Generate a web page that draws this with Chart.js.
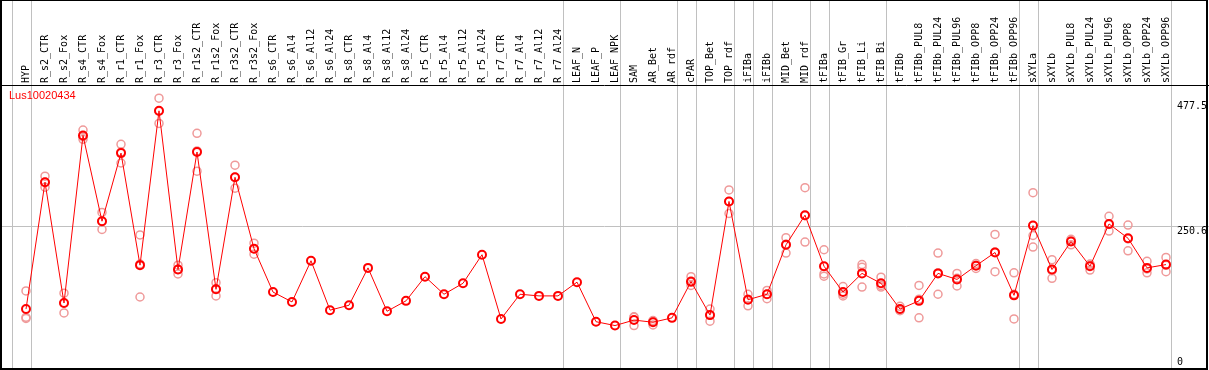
<!DOCTYPE html>
<html>
<head>
<meta charset="utf-8">
<script src="https://cdn.jsdelivr.net/npm/chart.js@4.4.1/dist/chart.umd.min.js"></script>
<style>
  html, body { margin: 0; padding: 0; background: #fff; }
  canvas { display: block; }
</style>
</head>
<body>
<canvas id="chart" width="1209" height="370"></canvas>
<script>
// sample names along the top
const categories = [
  'HYP', 'R_s2_CTR', 'R_s2_Fox', 'R_s4_CTR', 'R_s4_Fox', 'R_r1_CTR', 'R_r1_Fox',
  'R_r3_CTR', 'R_r3_Fox', 'R_r1s2_CTR', 'R_r1s2_Fox', 'R_r3s2_CTR', 'R_r3s2_Fox',
  'R_s6_CTR', 'R_s6_Al4', 'R_s6_Al12', 'R_s6_Al24', 'R_s8_CTR', 'R_s8_Al4', 'R_s8_Al12',
  'R_s8_Al24', 'R_r5_CTR', 'R_r5_Al4', 'R_r5_Al12', 'R_r5_Al24', 'R_r7_CTR', 'R_r7_Al4',
  'R_r7_Al12', 'R_r7_Al24', 'LEAF_N', 'LEAF_P', 'LEAF_NPK', 'SAM', 'AR_Bet', 'AR_rdf',
  'cPAR', 'TOP_Bet', 'TOP_rdf', 'iFIBa', 'iFIBb', 'MID_Bet', 'MID_rdf', 'tFIBa',
  'tFIB_Gr', 'tFIB_Li', 'tFIB_Bi', 'tFIBb', 'tFIBb_PUL8', 'tFIBb_PUL24', 'tFIBb_PUL96',
  'tFIBb_OPP8', 'tFIBb_OPP24', 'tFIBb_OPP96', 'sXYLa', 'sXYLb', 'sXYLb_PUL8',
  'sXYLb_PUL24', 'sXYLb_PUL96', 'sXYLb_OPP8', 'sXYLb_OPP24', 'sXYLb_OPP96'
];

// mean expression per sample
const meanValues = [
  100, 331, 111, 416, 260, 384, 180, 461, 172, 386, 136, 340, 210,
  131, 113, 188, 98, 107, 175, 96, 115, 159, 127, 147, 199, 82, 127, 124, 124,
  149, 77, 70, 80, 76, 84, 150, 89, 296, 117, 127, 217, 271, 178,
  131, 165, 147, 100, 115, 165, 154, 179, 203, 125, 252, 172, 223,
  178, 255, 229, 175, 181
];

// individual replicates (null where none are shown)
const rep1 = [
  133, 342, 129, 426, 276, 400, 235, 484, 180, 420, 148, 362, 220,
  null, null, null, null, null, null, null, null, null, null, null, null, null, null, null, null,
  null, null, null, 86, 79, null, 159, 100, 317, 127, 134, 230, 321, 208,
  141, 181, 158, 105, 143, 202, 165, 183, 236, 166, 312, 190, 227,
  182, 269, 253, 187, 194
];
const rep2 = [
  85, 331, 111, 414, 260, 386, 182, 460, 172, 388, 137, 340, 210,
  null, null, null, null, null, null, null, null, null, null, null, null, null, null, null, null,
  null, null, null, 85, 78, null, 149, 89, 296, 118, 127, 218, 270, 164,
  127, 176, 143, 98, 118, 166, 156, 180, 204, 127, 234, 170, 224,
  180, 254, 228, 173, 180
];
const rep3 = [
  83, 322, 93, 409, 245, 366, 122, 438, 164, 351, 124, 320, 200,
  null, null, null, null, null, null, null, null, null, null, null, null, null, null, null, null,
  null, null, null, 70, 71, null, 143, 78, 274, 106, 119, 202, 222, 160,
  124, 140, 140, 97, 84, 127, 142, 174, 168, 82, 213, 156, 217,
  171, 242, 206, 166, 168
];

const yTicks = [0, 250.6, 477.5];
const yMax = 508;
const gridValue = 250.6;
// group separators drawn just after these sample indexes
const groupBreaks = [-1, 0, 28, 31, 34, 35, 37, 38, 39, 41, 42, 45, 52, 53, 60];
const geneName = 'Lus10020434';

const framePlugin = {
  id: 'frame',
  beforeDatasetsDraw(chart) {
    const { ctx, scales: { x, y } } = chart;
    const w = chart.width, h = chart.height;
    ctx.save();
    ctx.strokeStyle = '#c0c0c0';
    ctx.lineWidth = 1;
    groupBreaks.forEach(b => {
      const px = Math.round(x.getPixelForValue(b + 0.25)) + 0.5;
      ctx.beginPath();
      ctx.moveTo(px, 0);
      ctx.lineTo(px, h);
      ctx.stroke();
    });
    const gy = Math.round(y.getPixelForValue(gridValue)) + 0.5;
    ctx.beginPath();
    ctx.moveTo(0, gy);
    ctx.lineTo(w, gy);
    ctx.stroke();
    ctx.restore();
  },
  afterDraw(chart) {
    const { ctx, scales: { y } } = chart;
    const w = chart.width;
    ctx.save();
    // outer frame and header line
    ctx.strokeStyle = '#000';
    ctx.lineWidth = 2;
    ctx.strokeRect(1, 0, w - 3, 369);
    ctx.lineWidth = 1;
    ctx.beginPath();
    ctx.moveTo(0, 85.5);
    ctx.lineTo(w, 85.5);
    ctx.stroke();

    // value labels on the right
    ctx.fillStyle = '#000';
    ctx.font = '10px "DejaVu Sans Mono"';
    ctx.textAlign = 'left';
    ctx.textBaseline = 'top';
    yTicks.forEach(v => {
      const py = Math.min(y.getPixelForValue(v), 357);
      ctx.fillText(String(v), 1177, py);
    });

    // gene name
    ctx.fillStyle = '#ff0000';
    ctx.font = '11px "Liberation Sans"';
    ctx.textBaseline = 'middle';
    ctx.fillText(geneName, 9, 96);
    ctx.restore();
  }
};

const repStyle = {
  showLine: false,
  borderColor: '#ef9a9a',
  pointBorderColor: '#ef9a9a',
  pointBackgroundColor: 'rgba(0,0,0,0)',
  pointRadius: 4,
  pointBorderWidth: 1.5
};

new Chart(document.getElementById('chart'), {
  type: 'line',
  data: {
    labels: categories,
    datasets: [
      {
        data: meanValues,
        borderColor: '#ff0000',
        borderWidth: 1,
        pointBorderColor: '#ff0000',
        pointBackgroundColor: 'rgba(0,0,0,0)',
        pointRadius: 4,
        pointBorderWidth: 2,
        tension: 0
      },
      Object.assign({ data: rep1 }, repStyle),
      Object.assign({ data: rep2 }, repStyle),
      Object.assign({ data: rep3 }, repStyle)
    ]
  },
  options: {
    responsive: false,
    animation: false,
    devicePixelRatio: 1,
    layout: { padding: { left: 16.5, right: 33.5, top: 0, bottom: 2 } },
    scales: {
      x: {
        type: 'category',
        position: 'top',
        offset: true,
        grid: { display: false, drawTicks: false },
        border: { display: false },
        ticks: {
          autoSkip: false,
          maxRotation: 90,
          minRotation: 90,
          padding: 2,
          labelOffset: 12,
          color: '#000',
          font: { family: 'DejaVu Sans Mono', size: 10 }
        },
        afterFit(scale) { scale.height = 85; }
      },
      y: { display: false, min: 0, max: yMax }
    },
    plugins: {
      legend: { display: false },
      tooltip: { enabled: false }
    }
  },
  plugins: [framePlugin]
});
</script>
</body>
</html>
